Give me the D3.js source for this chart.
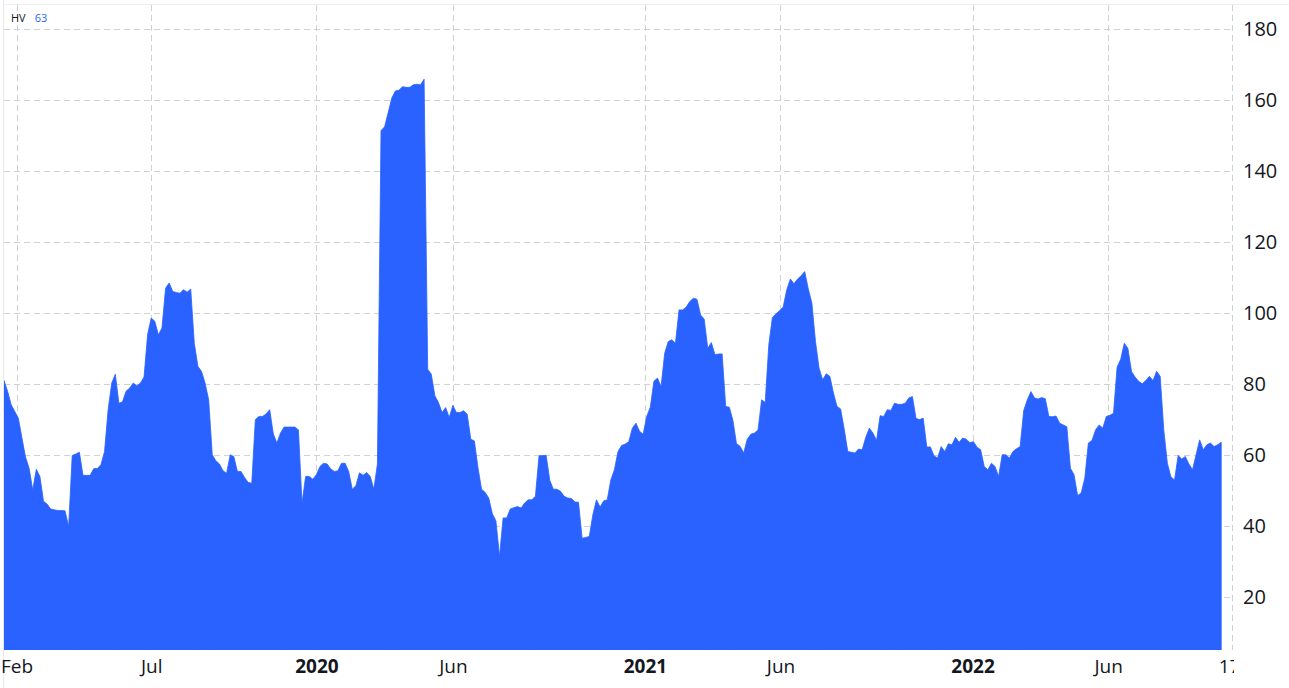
<!DOCTYPE html>
<html>
<head>
<meta charset="utf-8">
<script src="https://cdn.jsdelivr.net/npm/d3@7"></script>
<style>
  html, body { margin: 0; padding: 0; background: #ffffff; }
  svg { display: block; }
</style>
</head>
<body>
<svg id="chart" width="1289" height="688"></svg>
<script>
// ---------------- DATA ----------------
// HV (historical volatility, 63-day) sampled every 4 calendar days from 2019-01-18
const seriesStart = "2019-01-18";
const stepDays = 4;
const hvValues = [
  81, 78, 74.2, 72.3, 70.4, 64.8, 59.4, 56.3, 50.2, 56,
  54, 47, 46.2, 44.8, 44.6, 44.4, 44.4, 44.3, 39.9, 59.9,
  60.3, 60.8, 54.3, 54.3, 54.3, 56.2, 56.2, 57.3, 61, 72.8,
  80.3, 82.8, 74.6, 75, 78, 78.9, 80.3, 79.5, 80.3, 82,
  94, 98.6, 97.7, 93.9, 95.8, 107, 108.5, 106.1, 105.8, 105.6,
  106.6, 105.9, 106.8, 91.5, 85, 83.6, 80.3, 75.6, 60.1, 58.4,
  57.5, 55.6, 54.9, 60.1, 59.6, 55.4, 55.4, 53.7, 52.3, 52.1,
  70, 70.9, 70.9, 71.6, 72.8, 66, 63.4, 66.2, 67.9, 67.9,
  67.9, 67.9, 67.1, 46.5, 54, 54, 53.2, 54.5, 56.8, 57.7,
  57.5, 56.1, 55.4, 55.6, 57.7, 57.7, 55.4, 50.4, 51.4, 55,
  54.3, 55.1, 54, 50.4, 57.5, 151.4, 152.5, 156.5, 160.6, 162.6,
  162.8, 163.8, 163.6, 163.6, 164.3, 164.5, 164.3, 165.9, 84.2, 82.8,
  76.7, 74.8, 72, 73.4, 70.6, 74, 72, 72, 72.5, 71.5,
  64.5, 64, 56.5, 50.4, 49.5, 47.9, 43.5, 41.5, 31.5, 42.3,
  42.3, 44.8, 45.2, 45.5, 45.1, 46.5, 47.4, 47.4, 48.4, 59.8,
  59.9, 59.9, 52.9, 50.4, 50.4, 49.8, 48.4, 47.9, 47.8, 46.8,
  46.7, 36.6, 36.8, 37.1, 43.2, 47.4, 45.4, 47.1, 47.4, 53,
  55.9, 61, 62.7, 63.1, 63.8, 67.6, 69, 66.7, 65.9, 70.9,
  73.5, 80.8, 81.7, 79.3, 88.7, 92, 92.5, 91.5, 100.9, 100.9,
  101.7, 103.3, 104.2, 103.9, 99.5, 98.3, 90.1, 91.7, 88.3, 88.5,
  88.5, 73.7, 73.5, 69.8, 63.2, 62.5, 60.6, 64.5, 65.9, 66.2,
  67.1, 75.6, 74.8, 91.1, 98.8, 99.8, 100.7, 101.7, 106.6, 109.6,
  108.3, 109.6, 110.5, 111.7, 106.8, 102.8, 92, 84.5, 81.2, 82.9,
  82.2, 77.5, 73.7, 73, 67.3, 61, 60.8, 60.6, 61.7, 61.5,
  65, 67.6, 66.2, 64.1, 71.1, 70.9, 72.8, 72.6, 74.6, 74.3,
  74.3, 74.6, 76.1, 76.5, 70.3, 70, 70.4, 62.3, 62.3, 59.8,
  59.2, 62.4, 61, 63.2, 62.9, 65, 63.6, 64.8, 64.5, 63.5,
  63.8, 62.2, 61.5, 56.8, 55.9, 57.7, 56.8, 54, 60.1, 60.1,
  59.2, 61, 61.8, 62.4, 72.6, 75.6, 77.9, 76.1, 75.8, 76.2,
  75.9, 70.9, 70.8, 71, 69, 68.5, 68, 56.3, 54.5, 48.6,
  49.3, 53.5, 63.4, 64.1, 67.1, 68.5, 67.6, 70.9, 71.2, 71.8,
  84.8, 87, 91.5, 90.1, 83.6, 82, 80.8, 80.1, 81, 82.2,
  81, 83.6, 82.2, 67.1, 57.7, 53.8, 53, 59.9, 58.9, 59.6,
  57.5, 55.9, 60.1, 64.3, 61.5, 62.9, 63.4, 62.4, 62.9, 63.6
];

// visible time window
const viewStart = "2019-01-18";
const viewEnd = "2022-10-17";

// x-axis ticks
const xTickDates = ["2019-02-01", "2019-07-01", "2020-01-01", "2020-06-01", "2021-01-01", "2021-06-01", "2022-01-01", "2022-06-01", "2022-10-17"];
const xTickLabels = ["Feb", "Jul", "2020", "Jun", "2021", "Jun", "2022", "Jun", "17"];
const xTickBold = [false, false, true, false, true, false, true, false, false];

// y-axis ticks
const yTicks = [20, 40, 60, 80, 100, 120, 140, 160, 180];
const yDomain = [5.1, 186.8];

const legendName = "HV";
const legendValue = "63";

// ---------------- LAYOUT ----------------
const W = 1289, H = 688;
const plot = { left: 4, right: 1232, top: 5, bottom: 650 };
const blue = "#2962ff";
const textColor = "#131722";
const gridColor = "#cfd1d6";
const fontFamily = "'Open Sans', 'Noto Sans', sans-serif";

const parse = d3.timeParse("%Y-%m-%d");
const start = parse(seriesStart);
const data = hvValues.map((v, i) => ({ date: d3.timeDay.offset(start, i * stepDays), value: v }));

const x = d3.scaleTime()
  .domain([parse(viewStart), parse(viewEnd)])
  .range([plot.left, plot.right]);

const y = d3.scaleLinear()
  .domain(yDomain)
  .range([plot.bottom, plot.top]);

const svg = d3.select("#chart");

svg.append("rect").attr("width", W).attr("height", H).attr("fill", "#ffffff");

const defs = svg.append("defs");
defs.append("clipPath").attr("id", "plotClip")
  .append("rect")
  .attr("x", plot.left).attr("y", plot.top)
  .attr("width", plot.right - plot.left).attr("height", plot.bottom - plot.top);
defs.append("clipPath").attr("id", "xLabelClip")
  .append("rect")
  .attr("x", 0).attr("y", plot.bottom)
  .attr("width", plot.right + 2).attr("height", H - plot.bottom);

// pane border
svg.append("line")
  .attr("x1", plot.left - 0.5).attr("x2", plot.left - 0.5)
  .attr("y1", 0).attr("y2", H)
  .attr("stroke", "#e6e8ee").attr("stroke-width", 1);
svg.append("line")
  .attr("x1", plot.left).attr("x2", W)
  .attr("y1", plot.top - 0.5).attr("y2", plot.top - 0.5)
  .attr("stroke", "#eceef2").attr("stroke-width", 1);

// grid
const grid = svg.append("g");
grid.selectAll("line.h")
  .data(yTicks)
  .join("line")
  .attr("class", "h")
  .attr("x1", plot.left).attr("x2", plot.right)
  .attr("y1", d => Math.round(y(d)) + 0.5).attr("y2", d => Math.round(y(d)) + 0.5)
  .attr("stroke", gridColor).attr("stroke-width", 1)
  .attr("stroke-dasharray", "6,4");

grid.selectAll("line.v")
  .data(xTickDates.map(parse))
  .join("line")
  .attr("class", "v")
  .attr("x1", d => Math.round(x(d)) + 0.5).attr("x2", d => Math.round(x(d)) + 0.5)
  .attr("y1", plot.top).attr("y2", plot.bottom)
  .attr("stroke", gridColor).attr("stroke-width", 1)
  .attr("stroke-dasharray", "6,4");

// area
const area = d3.area()
  .x(d => x(d.date))
  .y0(plot.bottom)
  .y1(d => y(d.value))
  .curve(d3.curveLinear);

svg.append("g").attr("clip-path", "url(#plotClip)")
  .append("path")
  .datum(data)
  .attr("d", area)
  .attr("fill", blue)
  .attr("stroke", blue)
  .attr("stroke-width", 0.8)
  .attr("stroke-linejoin", "round");

// y axis (right)
const yAxis = d3.axisRight(y)
  .tickValues(yTicks)
  .tickSize(0)
  .tickPadding(11)
  .tickFormat(d3.format("d"));

const yg = svg.append("g")
  .attr("transform", `translate(${plot.right},0)`)
  .call(yAxis);
yg.select(".domain").remove();
yg.selectAll("text")
  .attr("fill", textColor)
  .style("font-family", fontFamily)
  .style("font-size", "20px");

// x axis (bottom)
const xAxis = d3.axisBottom(x)
  .tickValues(xTickDates.map(parse))
  .tickSize(0)
  .tickPadding(10)
  .tickFormat((d, i) => xTickLabels[i]);

const xg = svg.append("g")
  .attr("clip-path", "url(#xLabelClip)")
  .append("g")
  .attr("transform", `translate(0,${plot.bottom})`)
  .call(xAxis);
xg.select(".domain").remove();
xg.selectAll("text")
  .attr("fill", textColor)
  .style("font-family", fontFamily)
  .style("font-size", "19px")
  .style("font-weight", (d, i) => xTickBold[i] ? 700 : 400)
  .attr("dx", (d, i) => i === xTickLabels.length - 1 ? -3 : 0);

// legend
const legend = svg.append("text")
  .attr("x", 11).attr("y", 22)
  .style("font-family", fontFamily)
  .style("font-size", "11px");
legend.append("tspan").attr("fill", textColor).text(legendName);
legend.append("tspan").attr("dx", 9).attr("fill", blue).text(legendValue);
</script>
</body>
</html>
